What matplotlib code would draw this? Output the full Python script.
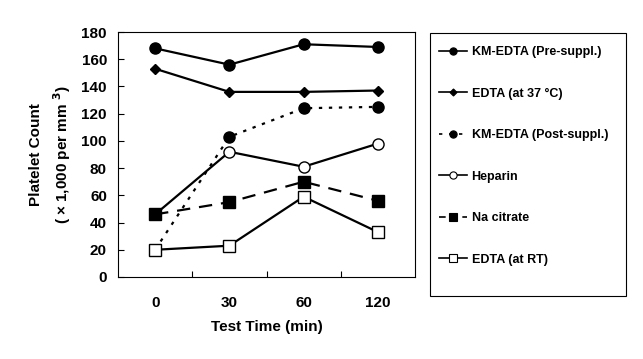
import matplotlib.pyplot as plt
from matplotlib.lines import Line2D
from matplotlib.patches import Rectangle
import numpy as np

plt.rcParams['font.family'] = ['Liberation Sans', 'DejaVu Sans']
plt.rcParams['font.weight'] = 'bold'

times = ['0', '30', '60', '120']
km_pre = [168, 156, 171, 169]
edta_37 = [153, 136, 136, 137]
km_post = [20, 103, 124, 125]
heparin = [46, 92, 81, 98]
na_citrate = [46, 55, 70, 56]
edta_rt = [20, 23, 59, 33]

labels = ['KM-EDTA (Pre-suppl.)', 'EDTA (at 37 \u00b0C)', 'KM-EDTA (Post-suppl.)',
          'Heparin', 'Na citrate', 'EDTA (at RT)']

W, H = 643, 359
fig = plt.figure(figsize=(W / 100, H / 100), dpi=100)
ax = fig.add_axes([118 / W, 1 - 277 / H, 297 / W, 245 / H])

x = np.arange(len(times)) + 0.5
# series: values, linestyle, marker, facecolor, markersize
series = [
    (km_pre, '-', 'o', 'black', 8),
    (edta_37, '-', 'D', 'black', 5.5),
    (km_post, (0, (1.5, 3)), 'o', 'black', 8),
    (heparin, '-', 'o', 'white', 8),
    (na_citrate, (0, (6, 4)), 's', 'black', 8),
    (edta_rt, '-', 's', 'white', 8),
]
leg_ls = ['-', '-', (0, (2, 4)), '-', (0, (4, 3)), '-']
handles = []
for (vals, ls, mk, fc, ms), lab, lls in zip(series, labels, leg_ls):
    ax.plot(x, vals, ls=ls, color='black', lw=1.6, marker=mk, ms=ms,
            mfc=fc, mec='black', mew=1)
    handles.append(Line2D([], [], ls=lls, color='black', lw=1.2,
                          marker=mk, ms=ms * 0.65, mfc=fc, mec='black', mew=0.8))

ax.set_xlim(0, 4)
ax.set_ylim(0, 180)
ax.set_yticks(range(0, 181, 20))
ax.set_xticks([1, 2, 3])
ax.set_xticklabels([])
ax.tick_params(axis='both', direction='in', length=4, width=0.8, labelsize=11)
ax.tick_params(axis='y', pad=8)
for xi, t in zip(x, times):
    ax.text(xi, -19, t, ha='center', va='center', fontsize=11, fontweight='bold')
ax.text(2, -37, 'Test Time (min)', ha='center', va='center', fontsize=11, fontweight='bold')
ax.set_ylabel('Platelet Count\n( \u00d7 1,000 per mm $^{3}$)', fontsize=11, fontweight='bold',
              linespacing=1.5, labelpad=6)
for s in ax.spines.values():
    s.set_linewidth(0.8)

# legend box drawn separately (more room under the last entry)
fig.patches.append(Rectangle((430 / W, 1 - 296 / H), 196 / W, 263 / H, transform=fig.transFigure,
                             fill=False, edgecolor='black', lw=0.8))
leg = fig.legend(handles, labels, loc='upper left', bbox_to_anchor=(439 / W, 1 - 46 / H),
                 frameon=False, fontsize=9, labelspacing=2.36, handlelength=2.2,
                 handletextpad=0.4, borderpad=0, borderaxespad=0)

plt.savefig('out.png', dpi=100)
